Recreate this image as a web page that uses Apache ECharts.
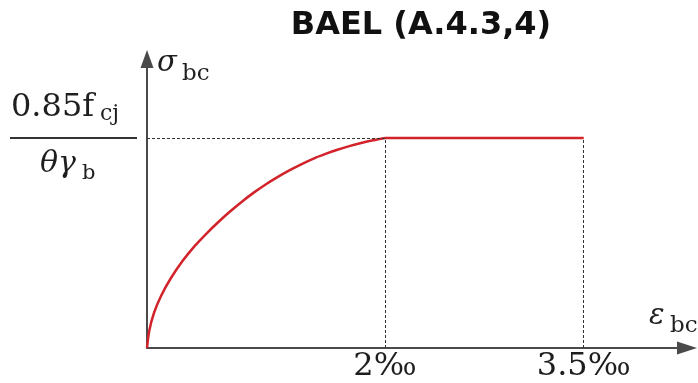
<!DOCTYPE html>
<html>
<head>
<meta charset="utf-8">
<script src="https://cdn.jsdelivr.net/npm/echarts@6/dist/echarts.min.js"></script>
<style>
html,body{margin:0;padding:0;background:#fff;}
#chart{width:698px;height:383px;}
</style>
</head>
<body>
<div id="chart"></div>
<script>
// Strain (drawing units, per mille positions) and normalised stress (1 = 0.85fcj/θγb)
const curveStrain = [0, 0.02, 0.06, 0.12, 0.2, 0.3, 0.4, 0.5, 0.6, 0.7, 0.8, 0.9, 1.0, 1.1, 1.2, 1.3, 1.4, 1.5, 1.6, 1.7, 1.8, 1.9, 2.0];
const curveStress = [0, 0.085, 0.169, 0.25, 0.332, 0.415, 0.485, 0.545, 0.6, 0.651, 0.698, 0.741, 0.78, 0.815, 0.847, 0.876, 0.902, 0.924, 0.944, 0.961, 0.976, 0.989, 1.0];
const plateauStrain = [2, 3.67];
const plateauStress = [1, 1];
const tickValues = [2, 3.67];
const tickLabels = ['2‰', '3.5‰'];
const peakStrain = 2;
const ultimateStrain = 3.67;
const plateau = 1;

const serif = '"DejaVu Serif", serif';
const textColor = '#1e1e1e';

const chart = echarts.init(document.getElementById('chart'));
chart.setOption({
  animation: false,
  backgroundColor: '#fff',
  grid: { left: 147, top: 59, right: 11, bottom: 35, containLabel: false },
  xAxis: {
    type: 'value', min: 0, max: 4.538,
    splitLine: { show: false },
    axisTick: { show: false },
    axisLine: { lineStyle: { color: '#4a4a4a', width: 2 }, symbol: ['none', 'triangle'], symbolSize: [13, 20] },
    axisLabel: {
      customValues: tickValues,
      formatter: v => tickLabels[tickValues.indexOf(v)],
      fontFamily: serif, fontSize: 32, color: textColor, margin: 3
    }
  },
  yAxis: {
    type: 'value', min: 0, max: 1.376,
    splitLine: { show: false },
    axisTick: { show: false },
    axisLabel: { show: false },
    axisLine: { lineStyle: { color: '#4a4a4a', width: 2 }, symbol: ['none', 'triangle'], symbolSize: [13, 18] }
  },
  series: [{
    type: 'line',
    data: curveStrain.map((x, i) => [x, curveStress[i]]),
    smooth: 0.3,
    showSymbol: false,
    lineStyle: { color: '#d2232a', width: 2.5 },
    markLine: {
      silent: true,
      symbol: 'none',
      label: { show: false },
      lineStyle: { color: '#333', width: 1, type: [3, 2] },
      data: [
        [{ coord: [0, plateau] }, { coord: [peakStrain, plateau] }],
        [{ coord: [peakStrain, 0] }, { coord: [peakStrain, plateau] }],
        [{ coord: [ultimateStrain, 0] }, { coord: [ultimateStrain, plateau] }]
      ]
    },
    z: 3
  }, {
    type: 'line',
    data: plateauStrain.map((x, i) => [x, plateauStress[i]]),
    showSymbol: false,
    lineStyle: { color: '#d2232a', width: 2.5 },
    z: 3
  }],
  graphic: [
    { type: 'text', x: 421, y: 25.5, style: { text: 'BAEL (A.4.3,4)', font: 'bold 32px "DejaVu Sans", sans-serif', fill: '#111', align: 'center', verticalAlign: 'middle' } },
    { type: 'text', x: 11, y: 107.4, style: { text: '0.85f', font: '32px ' + serif, fill: textColor, align: 'left', verticalAlign: 'middle' } },
    { type: 'text', x: 100, y: 114, style: { text: 'cj', font: '22px ' + serif, fill: textColor, align: 'left', verticalAlign: 'middle' } },
    { type: 'line', shape: { x1: 10, y1: 138, x2: 137, y2: 138 }, style: { stroke: '#333', lineWidth: 2 } },
    { type: 'text', x: 40, y: 164, style: { text: 'θγ', font: 'italic 30px ' + serif, fill: textColor, align: 'left', verticalAlign: 'middle' } },
    { type: 'text', x: 82, y: 174, style: { text: 'b', font: '21px ' + serif, fill: textColor, align: 'left', verticalAlign: 'middle' } },
    { type: 'text', x: 157, y: 63.6, style: { text: 'σ', font: 'italic 29px ' + serif, fill: textColor, align: 'left', verticalAlign: 'middle' } },
    { type: 'text', x: 182, y: 74.4, style: { text: 'bc', font: '23px ' + serif, fill: textColor, align: 'left', verticalAlign: 'middle' } },
    { type: 'text', x: 649, y: 316.6, style: { text: 'ε', font: 'italic 29px ' + serif, fill: textColor, align: 'left', verticalAlign: 'middle' } },
    { type: 'text', x: 670, y: 326.4, style: { text: 'bc', font: '23px ' + serif, fill: textColor, align: 'left', verticalAlign: 'middle' } }
  ]
});
</script>
</body>
</html>
